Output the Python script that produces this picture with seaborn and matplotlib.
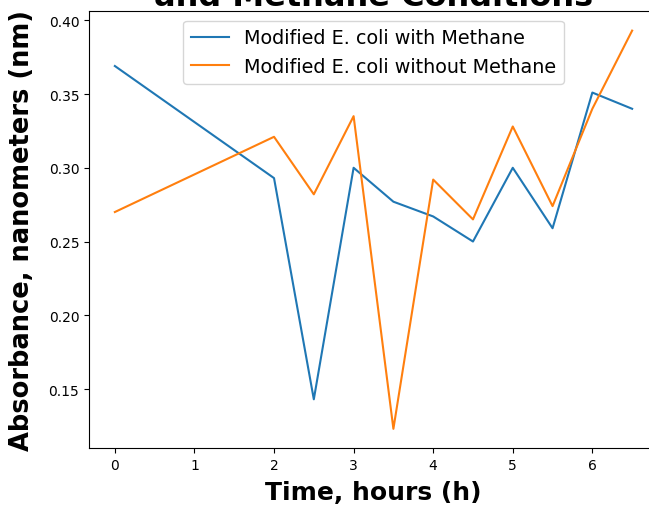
import matplotlib
matplotlib.use("Agg")
import matplotlib.pyplot as plt
import seaborn as sns
import pandas as pd

time_h = [0, 2, 2.5, 3, 3.5, 4, 4.5, 5, 5.5, 6, 6.5]
with_methane = [0.369, 0.293, 0.143, 0.300, 0.277, 0.267, 0.250, 0.300, 0.259, 0.351, 0.340]
without_methane = [0.270, 0.321, 0.282, 0.335, 0.123, 0.292, 0.265, 0.328, 0.274, 0.340, 0.393]
series_names = ["Modified E. coli with Methane", "Modified E. coli without Methane"]

df = pd.DataFrame({
    "Time": time_h * 2,
    "Absorbance": with_methane + without_methane,
    "Series": [series_names[0]] * len(time_h) + [series_names[1]] * len(time_h),
})

fig = plt.figure(figsize=(6.49, 5.06), dpi=100)
ax = fig.add_axes([89 / 649, 1 - 449 / 506, (658 - 89) / 649, (449 - 12) / 506])
sns.lineplot(data=df, x="Time", y="Absorbance", hue="Series", ax=ax,
             palette=["#1f77b4", "#ff7f0e"], linewidth=1.5)
ax.set_xlim(-0.325, 6.825)
ax.set_ylim(0.110, 0.4063)
ax.set_yticks([0.15, 0.20, 0.25, 0.30, 0.35, 0.40])
ax.set_xticks([0, 1, 2, 3, 4, 5, 6])
ax.tick_params(labelsize=10)
ax.set_xlabel("Time, hours (h)", fontsize=18, fontweight="bold", labelpad=6)
ax.set_ylabel("Absorbance, nanometers (nm)", fontsize=18.5, fontweight="bold", labelpad=10)
ax.legend(title=None, fontsize=13.8, loc="upper center")
fig.text(0.5 * (89 + 658) / 649, 1 - 6 / 506, "and Methane Conditions", ha="center",
         va="baseline", fontsize=23, fontweight="bold")
fig.savefig("out.png", dpi=100)
